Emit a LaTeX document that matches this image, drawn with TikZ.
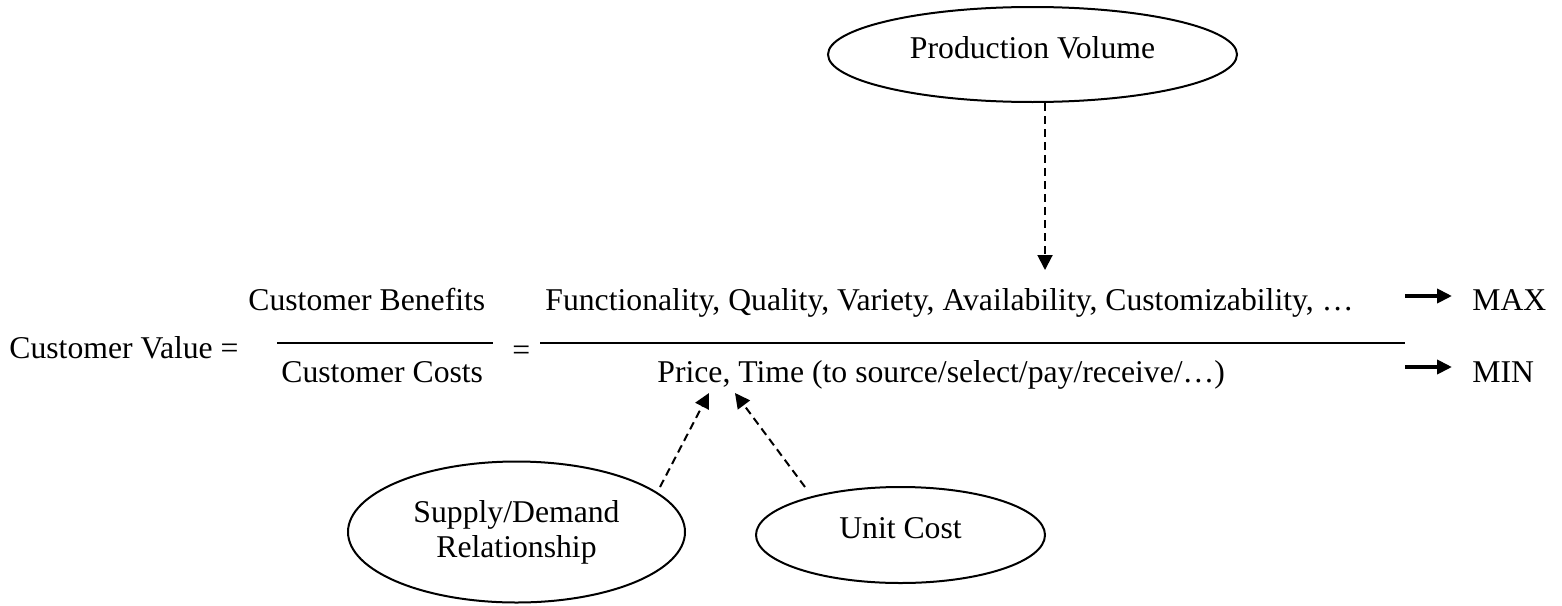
\documentclass[tikz,border=0pt]{standalone}
\usepackage{fontspec}
\setmainfont{Liberation Serif}
\usepackage{tikz}
\usetikzlibrary{arrows.meta,shapes.geometric}

\begin{document}
\begin{tikzpicture}[x=0.5pt,y=-0.5pt,font=\fontsize{15.85pt}{17.5pt}\selectfont]
          \tikzstyle{txt}=[inner sep=0pt,anchor=base west]
          \tikzstyle{ell}=[ellipse,draw=black,line width=1pt,inner sep=0pt,align=center]
          \tikzstyle{bar}=[line width=1pt]
          \tikzstyle{dasharrow}=[line width=1pt,dash pattern=on 4pt off 2.5pt,-{Triangle[length=7.5pt,width=7.5pt]}]
          \tikzstyle{bigarrow}=[line width=2pt,-{Triangle[length=7.5pt,width=7pt]}]

          \useasboundingbox (0,0) rectangle (1562,605);

          \begin{scope}
            % the value equation
            \node[txt](cv) at (9,358){Customer Value =};
            \node[txt](cb) at (248,310){Customer Benefits};
            \node[txt](cc) at (281,382){Customer Costs};
            \node[txt](eq) at (512,360){=};
            \node[txt](fun) at (545,310){Functionality, Quality, Variety, Availability, Customizability, …};
            \node[txt](price) at (657,382){Price, Time (to source/select/pay/receive/…)};
            \node[txt](max) at (1472,310){MAX};
            \node[txt](min) at (1472,382){MIN};

            \draw[bar] (277,343) -- (493,343);
            \draw[bar] (540,343) -- (1405,343);

            \coordinate (maxa) at (1405,296);
            \coordinate (maxb) at (1452,296);
            \coordinate (mina) at (1405,367);
            \coordinate (minb) at (1452,367);
            \draw[bigarrow] (maxa) -- (maxb);
            \draw[bigarrow] (mina) -- (minb);
          \end{scope}

          \begin{scope}
            % the drivers
            \node[ell,minimum width=204.5pt,minimum height=47.5pt,text depth=7pt](pv) at (1032.5,54.5){Production Volume};
            \node[ell,minimum width=168.5pt,minimum height=70.5pt](sd) at (516.5,532){Supply/Demand\\Relationship};
            \node[ell,minimum width=144.5pt,minimum height=48pt,text depth=7pt](uc) at (900.5,535){Unit Cost};

            \coordinate (pvtip) at (1045,270);
            \coordinate (sdtail) at (660,487);
            \coordinate (sdtip) at (709,393);
            \coordinate (uctail) at (805,487);
            \coordinate (uctip) at (735,393);

            \path[dasharrow]
            (pv.south -| pvtip) edge (pvtip)
            (sdtail) edge (sdtip)
            (uctail) edge (uctip);
          \end{scope}
        \end{tikzpicture}
\end{document}
